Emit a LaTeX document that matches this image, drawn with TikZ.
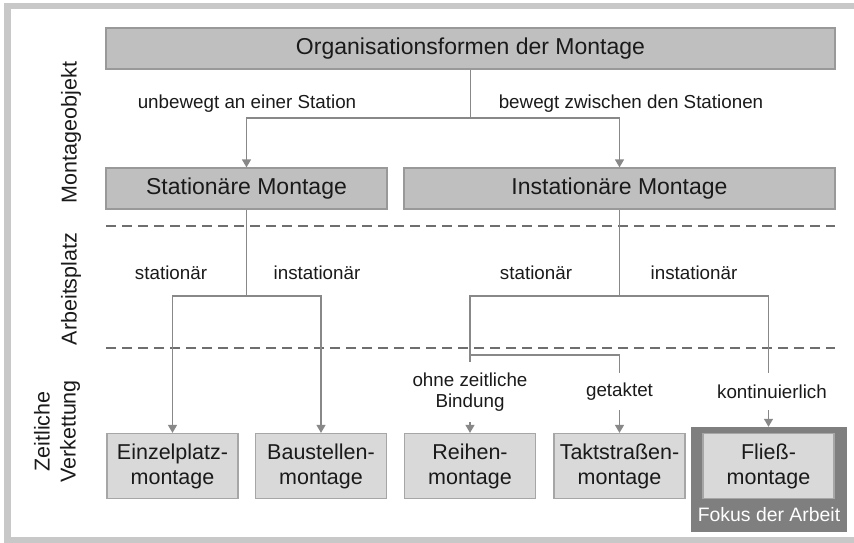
\documentclass[tikz,border=0pt]{standalone}
\usepackage{fontspec}
\setmainfont{Liberation Sans}
\usetikzlibrary{arrows.meta}

\definecolor{framegray}{HTML}{C8C8C8}
\definecolor{catfill}{HTML}{BFBFBF}
\definecolor{catline}{HTML}{999999}
\definecolor{leaffill}{HTML}{D9D9D9}
\definecolor{leafline}{HTML}{A6A6A6}
\definecolor{linegray}{HTML}{888888}
\definecolor{dashgray}{HTML}{6E6E6E}
\definecolor{focusgray}{HTML}{7F7F7F}
\definecolor{inkcolor}{HTML}{1A1A1A}

\begin{document}
\begin{tikzpicture}[x=1pt,y=-1pt,
  every node/.style={text=inkcolor},
  catbox/.style={draw=catline, fill=catfill, line width=1.2pt, minimum height=41pt,
    inner sep=0pt, font=\fontsize{23}{27}\selectfont},
  leafbox/.style={draw=leafline, fill=leaffill, line width=1.2pt, minimum width=131pt,
    minimum height=65pt, inner sep=0pt, align=center, font=\fontsize{21.5}{25}\selectfont},
  branch/.style={draw=linegray, line width=1.3pt},
  arrowline/.style={branch, -{Triangle[width=9pt,length=8pt]}},
  edgelabel/.style={font=\fontsize{18.8}{20.5}\selectfont, inner sep=0pt, align=center},
  sidelabel/.style={rotate=90, font=\fontsize{21.5}{26}\selectfont, align=center, inner sep=0pt},
  divider/.style={draw=dashgray, line width=2pt, dash pattern=on 10pt off 6pt}
]
\useasboundingbox (0,0) rectangle (854,543);

% outer frame (open on the right)
\fill[framegray] (4,3) rectangle (854,9);
\fill[framegray] (4,3) rectangle (11,543);
\fill[framegray] (4,537) rectangle (854,543);

% level dividers
\coordinate (d1l) at (106,226);
\coordinate (d1r) at (835,226);
\coordinate (d2l) at (106,348);
\coordinate (d2r) at (835,348);
\draw[divider] (d1l) -- (d1r);
\draw[divider] (d2l) -- (d2r);

% row labels
\node[sidelabel] (rowobj) at (71,132.5) {Montageobjekt};
\node[sidelabel] (rowplatz) at (71,289) {Arbeitsplatz};
\node[sidelabel] (rowzeit) at (57,431.5) {Zeitliche\\Verkettung};

% category boxes
\node[catbox, minimum width=729pt] (root) at (470.5,48.5) {Organisationsformen der Montage};
\node[catbox, minimum width=281pt] (stat) at (246.5,188.5) {Stationäre Montage};
\node[catbox, minimum width=431pt] (inst) at (619.5,188.5) {Instationäre Montage};

% focus frame
\node[fill=focusgray, minimum width=156pt, minimum height=105pt, inner sep=0pt] (focus) at (769,479.5) {};
\node[font=\fontsize{19.4}{22}\selectfont, text=white, inner sep=0pt] (focuslabel) at (769,515) {Fokus der Arbeit};

% leaf boxes
\node[leafbox] (einzel) at (172.5,466) {Einzelplatz-\\montage};
\node[leafbox] (baust) at (321,466) {Baustellen-\\montage};
\node[leafbox] (reihen) at (470,466) {Reihen-\\montage};
\node[leafbox] (takt) at (619.5,466) {Taktstraßen-\\montage};
\node[leafbox] (fliess) at (768.5,466) {Fließ-\\montage};

% edge labels
\node[edgelabel] (lunbew) at (247,104) {unbewegt an einer Station};
\node[edgelabel] (lbew) at (631,104) {bewegt zwischen den Stationen};
\node[edgelabel] (lstat1) at (171,273) {stationär};
\node[edgelabel] (linst1) at (317,273) {instationär};
\node[edgelabel] (lstat2) at (536,273) {stationär};
\node[edgelabel] (linst2) at (694,273) {instationär};
\node[edgelabel, minimum height=60pt] (lohne) at (470,392) {ohne zeitliche\\Bindung};
\node[edgelabel, minimum height=37pt] (ltakt) at (619.5,391.5) {getaktet};
\node[edgelabel, minimum height=37pt] (lkont) at (772,391.5) {kontinuierlich};

% connectors: first level
\coordinate (j0) at (470.5,118);
\draw[branch] (root.south) -- (j0);
\draw[arrowline] (j0) -| (stat.north);
\draw[arrowline] (j0) -| (inst.north);

% connectors: stationary branch
\coordinate (j1) at (246.5,296);
\draw[branch] (stat.south) -- (j1);
\draw[arrowline] (j1) -| (einzel.north);
\draw[arrowline] (j1) -| (baust.north);

% connectors: non-stationary branch
\coordinate (j2) at (619.5,296);
\coordinate (j3) at (470,355);
\draw[branch] (inst.south) -- (j2);
\draw[branch] (j2) -| (lohne.north);
\draw[branch] (j2) -| (fliess.north |- lkont.north);
\draw[branch] (j3) -| (ltakt.north);
\draw[arrowline] (lohne.south) -- (reihen.north);
\draw[arrowline] (ltakt.south) -- (takt.north);
\draw[arrowline] (fliess.north |- lkont.south) -- (fliess.north |- focus.north);
\end{tikzpicture}
\end{document}
